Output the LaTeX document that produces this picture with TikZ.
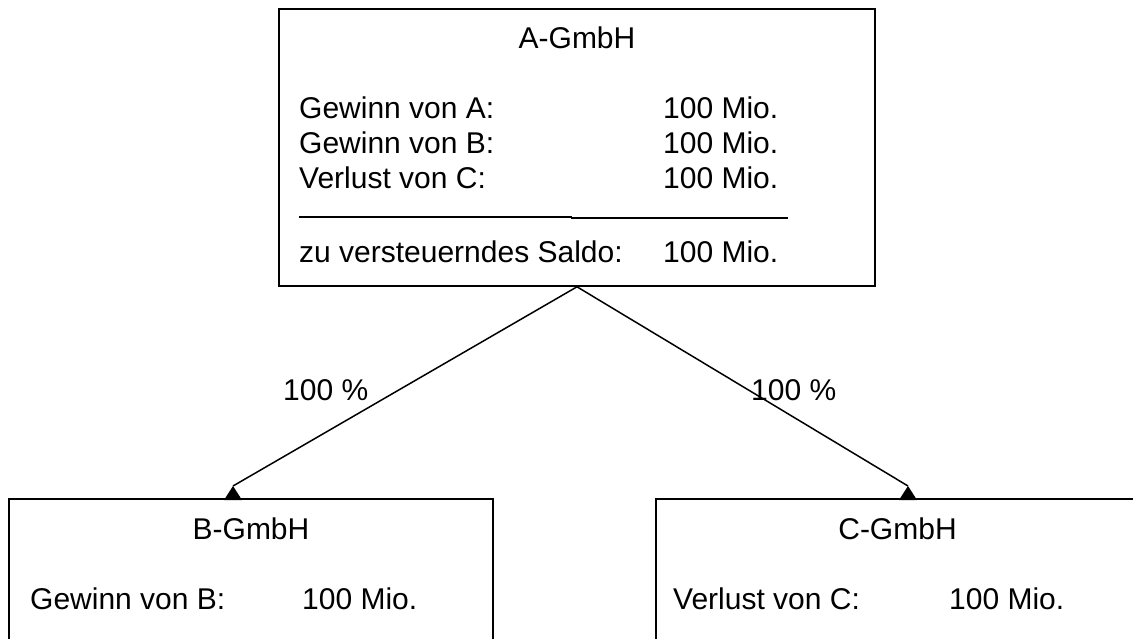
\documentclass[tikz,border=0pt]{standalone}
\usepackage{fontspec}
\setmainfont{Liberation Sans}
\usetikzlibrary{arrows.meta}
\begin{document}
\begin{tikzpicture}[x=1pt,y=-1pt,
  box/.style={draw, line width=1.6pt, rectangle, inner sep=0pt},
  txt/.style={inner sep=0pt, font=\fontsize{30}{36}\selectfont, anchor=base west},
  ttl/.style={txt, anchor=base},
  rule/.style={line width=1.6pt},
  link/.style={line width=1.5pt},
  head/.style={fill=black}]
\useasboundingbox (0,0) rectangle (1133,639);
\clip (0,0) rectangle (1133,639);

% parent company
\node[box, minimum width=596pt, minimum height=277pt] (A) at (577,147.5) {};
\node[ttl] (Atitle) at (577,49) {A-GmbH};
\node[txt] (a1l) at (299,119) {Gewinn von A:};
\node[txt] (a1r) at (663,119) {100 Mio.};
\node[txt] (a2l) at (299,154) {Gewinn von B:};
\node[txt] (a2r) at (663,154) {100 Mio.};
\node[txt] (a3l) at (299,189) {Verlust von C:};
\node[txt] (a3r) at (663,189) {100 Mio.};
\coordinate (r1a) at (299,217);
\coordinate (r1b) at (572,217);
\coordinate (r2a) at (571,218);
\coordinate (r2b) at (788,218);
\draw[rule] (r1a) -- (r1b);
\draw[line width=1.3pt] (r2a) -- (r2b);
\node[txt] (a4l) at (299,262) {zu versteuerndes Saldo:};
\node[txt] (a4r) at (663,262) {100 Mio.};

% subsidiaries
\node[box, minimum width=484pt, minimum height=300pt] (B) at (251,649) {};
\node[ttl] (Btitle) at (251,539) {B-GmbH};
\node[txt] (b1l) at (30,609) {Gewinn von B:};
\node[txt] (b1r) at (302,609) {100 Mio.};

\node[box, minimum width=483pt, minimum height=300pt] (C) at (897.5,649) {};
\node[ttl] (Ctitle) at (897.5,539) {C-GmbH};
\node[txt] (c1l) at (673,609) {Verlust von C:};
\node[txt] (c1r) at (949,609) {100 Mio.};

% shareholdings, each ending in a filled head resting on the box edge
\coordinate (tB) at (233,486);
\coordinate (tC) at (908,486);
\draw[link] (A.south) -- (tB);
\draw[link] (A.south) -- (tC);
\fill[head] (tB) -- ++(-9,14) -- ++(18,0) -- cycle;
\fill[head] (tC) -- ++(-9,14) -- ++(18,0) -- cycle;
\node[txt] (pB) at (283,400) {100 \%};
\node[txt] (pC) at (751,400) {100 \%};
\end{tikzpicture}
\end{document}
